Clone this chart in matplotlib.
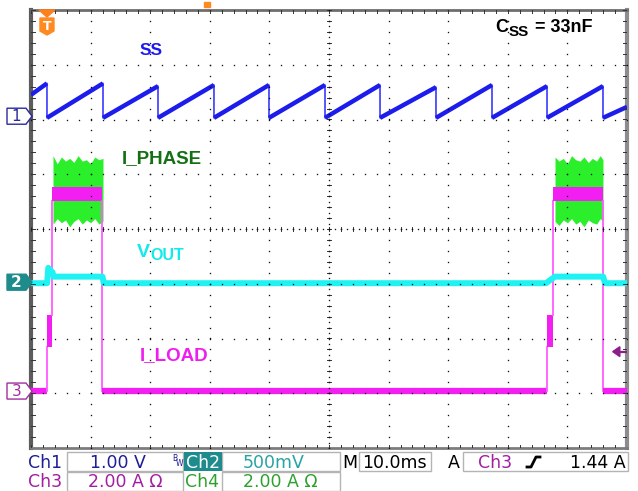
import numpy as np
import matplotlib.pyplot as plt
from matplotlib.patches import Polygon, Rectangle

# ---- scope settings ----
ms_per_div = 10.0
ch1_vdiv, ch1_off = 1.0, 2.06     # SS  (V)
ch2_vdiv, ch2_off = 0.5, -0.99    # VOUT (V)
ch3_adiv, ch3_off = 2.0, -2.96    # I_LOAD (A)
ch4_adiv, ch4_off = 2.0, -2.96    # I_PHASE (A)
trig_t = 2.68
trig_level = 1.44

# ---- SS sawtooth (ch1) ----
ss_peak_t = [2.68, 12.08, 21.31, 30.70, 39.93, 49.33, 58.56, 67.95, 77.35, 86.58, 95.97]
ss_peak_v = [0.60, 0.60, 0.55, 0.57, 0.57, 0.57, 0.57, 0.53, 0.57, 0.55, 0.55]
ss_low_v = -0.03
ss_start_v = 0.39
ss_end_v = 0.17

# ---- VOUT (ch2) ----
vout_t = [0, 2.7, 2.9, 3.6, 3.8, 12.0, 12.2, 86.4, 87.9, 96.0, 96.3, 100]
vout_v = [0, 0, 0.14, 0.10, 0.06, 0.06, 0.0, 0.0, 0.06, 0.06, 0.0, 0.0]

# ---- I_LOAD (ch3) pulses ----
load_start = [2.68, 86.58]
load_mid = [3.52, 87.58]
load_end = [11.91, 95.97]
load_step_lo, load_step_hi = 1.61, 2.78
load_band_lo, load_band_hi = 6.95, 7.45

# ---- I_PHASE (ch4) bursts, envelope ----
phase_t = [
    [3.69, 4.4, 5.1, 5.8, 6.5, 7.2, 7.9, 8.6, 9.3, 10.0, 10.7, 11.4, 12.08],
    [87.92, 88.6, 89.3, 90.0, 90.7, 91.4, 92.1, 92.8, 93.5, 94.2, 94.9, 95.5, 95.97],
]
phase_hi = [
    [8.6, 8.3, 8.55, 8.4, 8.5, 8.35, 8.6, 8.4, 8.45, 8.3, 8.55, 8.45, 8.5],
    [8.55, 8.4, 8.5, 8.3, 8.6, 8.45, 8.4, 8.55, 8.35, 8.5, 8.4, 8.6, 8.45],
]
phase_lo = [
    [6.1, 6.3, 6.15, 6.25, 6.0, 6.2, 6.3, 6.1, 6.25, 6.15, 6.3, 6.1, 6.2],
    [6.2, 6.05, 6.25, 6.15, 6.3, 6.1, 6.2, 6.0, 6.25, 6.15, 6.1, 6.3, 6.2],
]


def dv(v, scale, off):
    return np.asarray(v, dtype=float) / scale + off


W, H = 638, 491
L, R, T, B = 31, 627, 10, 448
fig = plt.figure(figsize=(W / 100, H / 100), dpi=100)
fig.patch.set_facecolor('white')
ax = fig.add_axes([L / W, 1 - B / H, (R - L) / W, (B - T) / H])
ax.set_xlim(0, 10 * ms_per_div)
ax.set_ylim(-4, 4)
ax.set_xticks([])
ax.set_yticks([])
for side, lw, col in [('left', 3.0, '#5c5c5c'), ('right', 3.0, '#8c8c8c'),
                      ('top', 2.0, '#6e6e6e'), ('bottom', 2.0, '#7c7c7c')]:
    ax.spines[side].set_linewidth(lw)
    ax.spines[side].set_color(col)

# I_PHASE bursts (green)
green = '#2cef2c'
for tt, hi, lo in zip(phase_t, phase_hi, phase_lo):
    ax.fill_between(tt, dv(lo, ch4_adiv, ch4_off), dv(hi, ch4_adiv, ch4_off),
                    color=green, lw=0, zorder=2)

# I_LOAD (magenta)
mag = '#f21ef2'
mag_edge = '#ff5cff'
prev = 0.0
for s, m, e in zip(load_start, load_mid, load_end):
    ax.plot([prev, s], dv([0, 0], ch3_adiv, ch3_off), color=mag, lw=4.5,
            solid_capstyle='butt', zorder=3)
    ax.plot([s, s], dv([0, load_step_lo], ch3_adiv, ch3_off), color=mag_edge, lw=1.3, zorder=3)
    ax.fill_between([s, m], dv([load_step_lo] * 2, ch3_adiv, ch3_off),
                    dv([load_step_hi] * 2, ch3_adiv, ch3_off), color=mag, lw=0, zorder=3)
    ax.plot([m, m], dv([load_step_hi, load_band_lo], ch3_adiv, ch3_off), color=mag_edge,
            lw=1.3, zorder=3)
    ax.fill_between([m, e], dv([load_band_lo] * 2, ch3_adiv, ch3_off),
                    dv([load_band_hi] * 2, ch3_adiv, ch3_off), color=mag, lw=0, zorder=3)
    ax.plot([e, e], dv([load_band_lo, 0], ch3_adiv, ch3_off), color=mag_edge, lw=1.3, zorder=3)
    prev = e
ax.plot([prev, 100], dv([0, 0], ch3_adiv, ch3_off), color=mag, lw=4.5,
        solid_capstyle='butt', zorder=3)

# VOUT (cyan)
ax.plot(vout_t, dv(vout_v, ch2_vdiv, ch2_off), color='#1ef2f2', lw=4.3, zorder=4)

# SS (blue)
ts = [0.0]
vs = [ss_start_v]
for tp, vp in zip(ss_peak_t, ss_peak_v):
    ts += [tp, tp]
    vs += [vp, ss_low_v]
ts.append(100.0)
vs.append(ss_end_v)
ax.plot(ts, dv(vs, ch1_vdiv, ch1_off), color='#3a3aff', lw=1.2, zorder=4)
for i in range(0, len(ts), 2):
    ax.plot(ts[i:i + 2], dv(vs[i:i + 2], ch1_vdiv, ch1_off), color='#1c1cec',
            lw=3.2, solid_capstyle='butt', zorder=4)

# graticule
dot = dict(ls='none', marker='s', ms=0.95, mew=0, color='#111111', zorder=6)
yy = np.arange(-4, 4.001, 0.2)
xx = np.arange(0, 100.001, 2.0)
for k in range(1, 10):
    ax.plot(np.full_like(yy, k * 10.0), yy, **dot)
for k in range(-3, 4):
    ax.plot(xx, np.full_like(xx, float(k)), **dot)
tk = dict(color='#333333', lw=0.7, zorder=6)
for y in yy:
    ax.plot([49.6, 50.4], [y, y], **tk)
    ax.plot([0, 0.6], [y, y], **tk)
    ax.plot([99.4, 100], [y, y], **tk)
for x in xx:
    ax.plot([x, x], [-0.04, 0.04], **tk)
    ax.plot([x, x], [-4, -3.94], **tk)
    ax.plot([x, x], [3.94, 4], **tk)
ax.plot(np.full(81, 50.0), np.arange(-4, 4.001, 0.1), **dot)
ax.plot(np.arange(0, 100.001, 1.0), np.zeros(101), **dot)

# trigger level arrow (ch3)
yd = trig_level / ch3_adiv + ch3_off
ax.add_patch(Polygon([(97.6, yd), (98.8, yd + 0.09), (98.8, yd - 0.09)],
                     closed=True, color='#8b1e8b', zorder=7, clip_on=False))
ax.plot([98.6, 100], [yd, yd], color='#8b1e8b', lw=1.6, zorder=7)

# ---- overlay in pixel coordinates ----
ov = fig.add_axes([0, 0, 1, 1], zorder=5)
ov.set_xlim(0, W)
ov.set_ylim(H, 0)
ov.axis('off')

bold = dict(family='Liberation Sans', weight='bold', va='baseline')
ov.text(140, 55, 'SS', color='#1a1aee', fontsize=12.5, **bold)
ov.text(495, 32, 'C', color='black', fontsize=13, **bold)
ov.text(509, 35.5, 'SS', color='black', fontsize=11, **bold)
ov.text(535, 32, '= 33nF', color='black', fontsize=13, **bold)
ov.text(122, 163, 'I_PHASE', color='#157015', fontsize=13.5, **bold)
ov.text(137, 257, 'V', color='#10eaea', fontsize=14, **bold)
ov.text(150, 260, 'OUT', color='#10eaea', fontsize=11.5, **bold)
ov.text(140, 360, 'I_LOAD', color='#ee1eee', fontsize=13.5, **bold)


def marker(yc, label, face, edge, tcol):
    pts = [(7, yc - 8), (26, yc - 8), (32, yc), (26, yc + 8), (7, yc + 8)]
    ov.add_patch(Polygon(pts, closed=True, facecolor=face, edgecolor=edge, lw=1))
    ov.text(16.5, yc + 0.5, label, color=tcol, fontsize=11, ha='center', va='center',
            family='DejaVu Sans', weight='bold' if face != 'white' else 'normal')


gy = lambda off: 229 - off * 54.75
marker(gy(ch1_off), '1', 'white', '#2a2a9a', '#2a2a9a')
marker(gy(ch2_off) - 1, '2', '#1e8c8c', '#1e8c8c', 'white')
marker(gy(ch3_off), '3', 'white', '#a030a0', '#a030a0')

# trigger position marker
tx = L + trig_t / 100 * (R - L)
ov.add_patch(Polygon([(tx - 8, 10), (tx + 8, 10), (tx, 17)], closed=True, color='#ff7f1a'))
ov.add_patch(Polygon([(tx - 7, 18), (tx + 7, 18), (tx + 7, 31), (tx, 35), (tx - 7, 31)],
                     closed=True, color='#ff8a22'))
ov.text(tx, 26, 'T', color='white', fontsize=9, ha='center', va='center',
        family='DejaVu Sans', weight='bold')
ov.add_patch(Rectangle((204, 2), 6, 5, color='#ff8a22'))

# status bar
box = dict(facecolor='white', edgecolor='#b4b4b4', lw=1)
for x0, y0, w in [(67, 452, 116), (222, 452, 118), (359, 452, 72), (463, 452, 165),
                  (67, 472, 116), (222, 472, 118)]:
    ov.add_patch(Rectangle((x0, y0), w, 18.5, **box))
ov.add_patch(Rectangle((184, 452), 38, 19, facecolor='#1e8c8c', lw=0))

st = dict(family='DejaVu Sans', fontsize=12.5, va='baseline')
navy, purple, teal, grn = '#1e1e96', '#a21ea2', '#2aa3a3', '#2ea02e'
ov.text(28, 468, 'Ch1', color=navy, **st)
ov.text(90, 468, '1.00 V', color=navy, **st)
ov.text(172, 461, 'B', color=navy, fontsize=5.5, family='DejaVu Sans')
ov.text(176, 466, 'W', color=navy, fontsize=5.5, family='DejaVu Sans')
ov.text(186, 468, 'Ch2', color='white', **st)
ov.text(243, 468, '500mV', color=teal, **st)
ov.text(342, 468, 'M', color='black', **st)
ov.text(362, 468, '10.0ms', color='black', **st)
ov.text(448, 468, 'A', color='black', **st)
ov.text(478, 468, 'Ch3', color=purple, **st)
ov.plot([527, 531, 536, 540], [467, 467, 457, 457], color='black', lw=2)
ov.text(626, 468, '1.44 A', color='black', ha='right', **st)
ov.text(28, 487, 'Ch3', color=purple, **st)
ov.text(88, 487, '2.00 A \u03a9', color=purple, **st)
ov.text(185, 487, 'Ch4', color=grn, **st)
ov.text(243, 487, '2.00 A \u03a9', color=grn, **st)

fig.savefig('out.png', dpi=100, facecolor='white')
